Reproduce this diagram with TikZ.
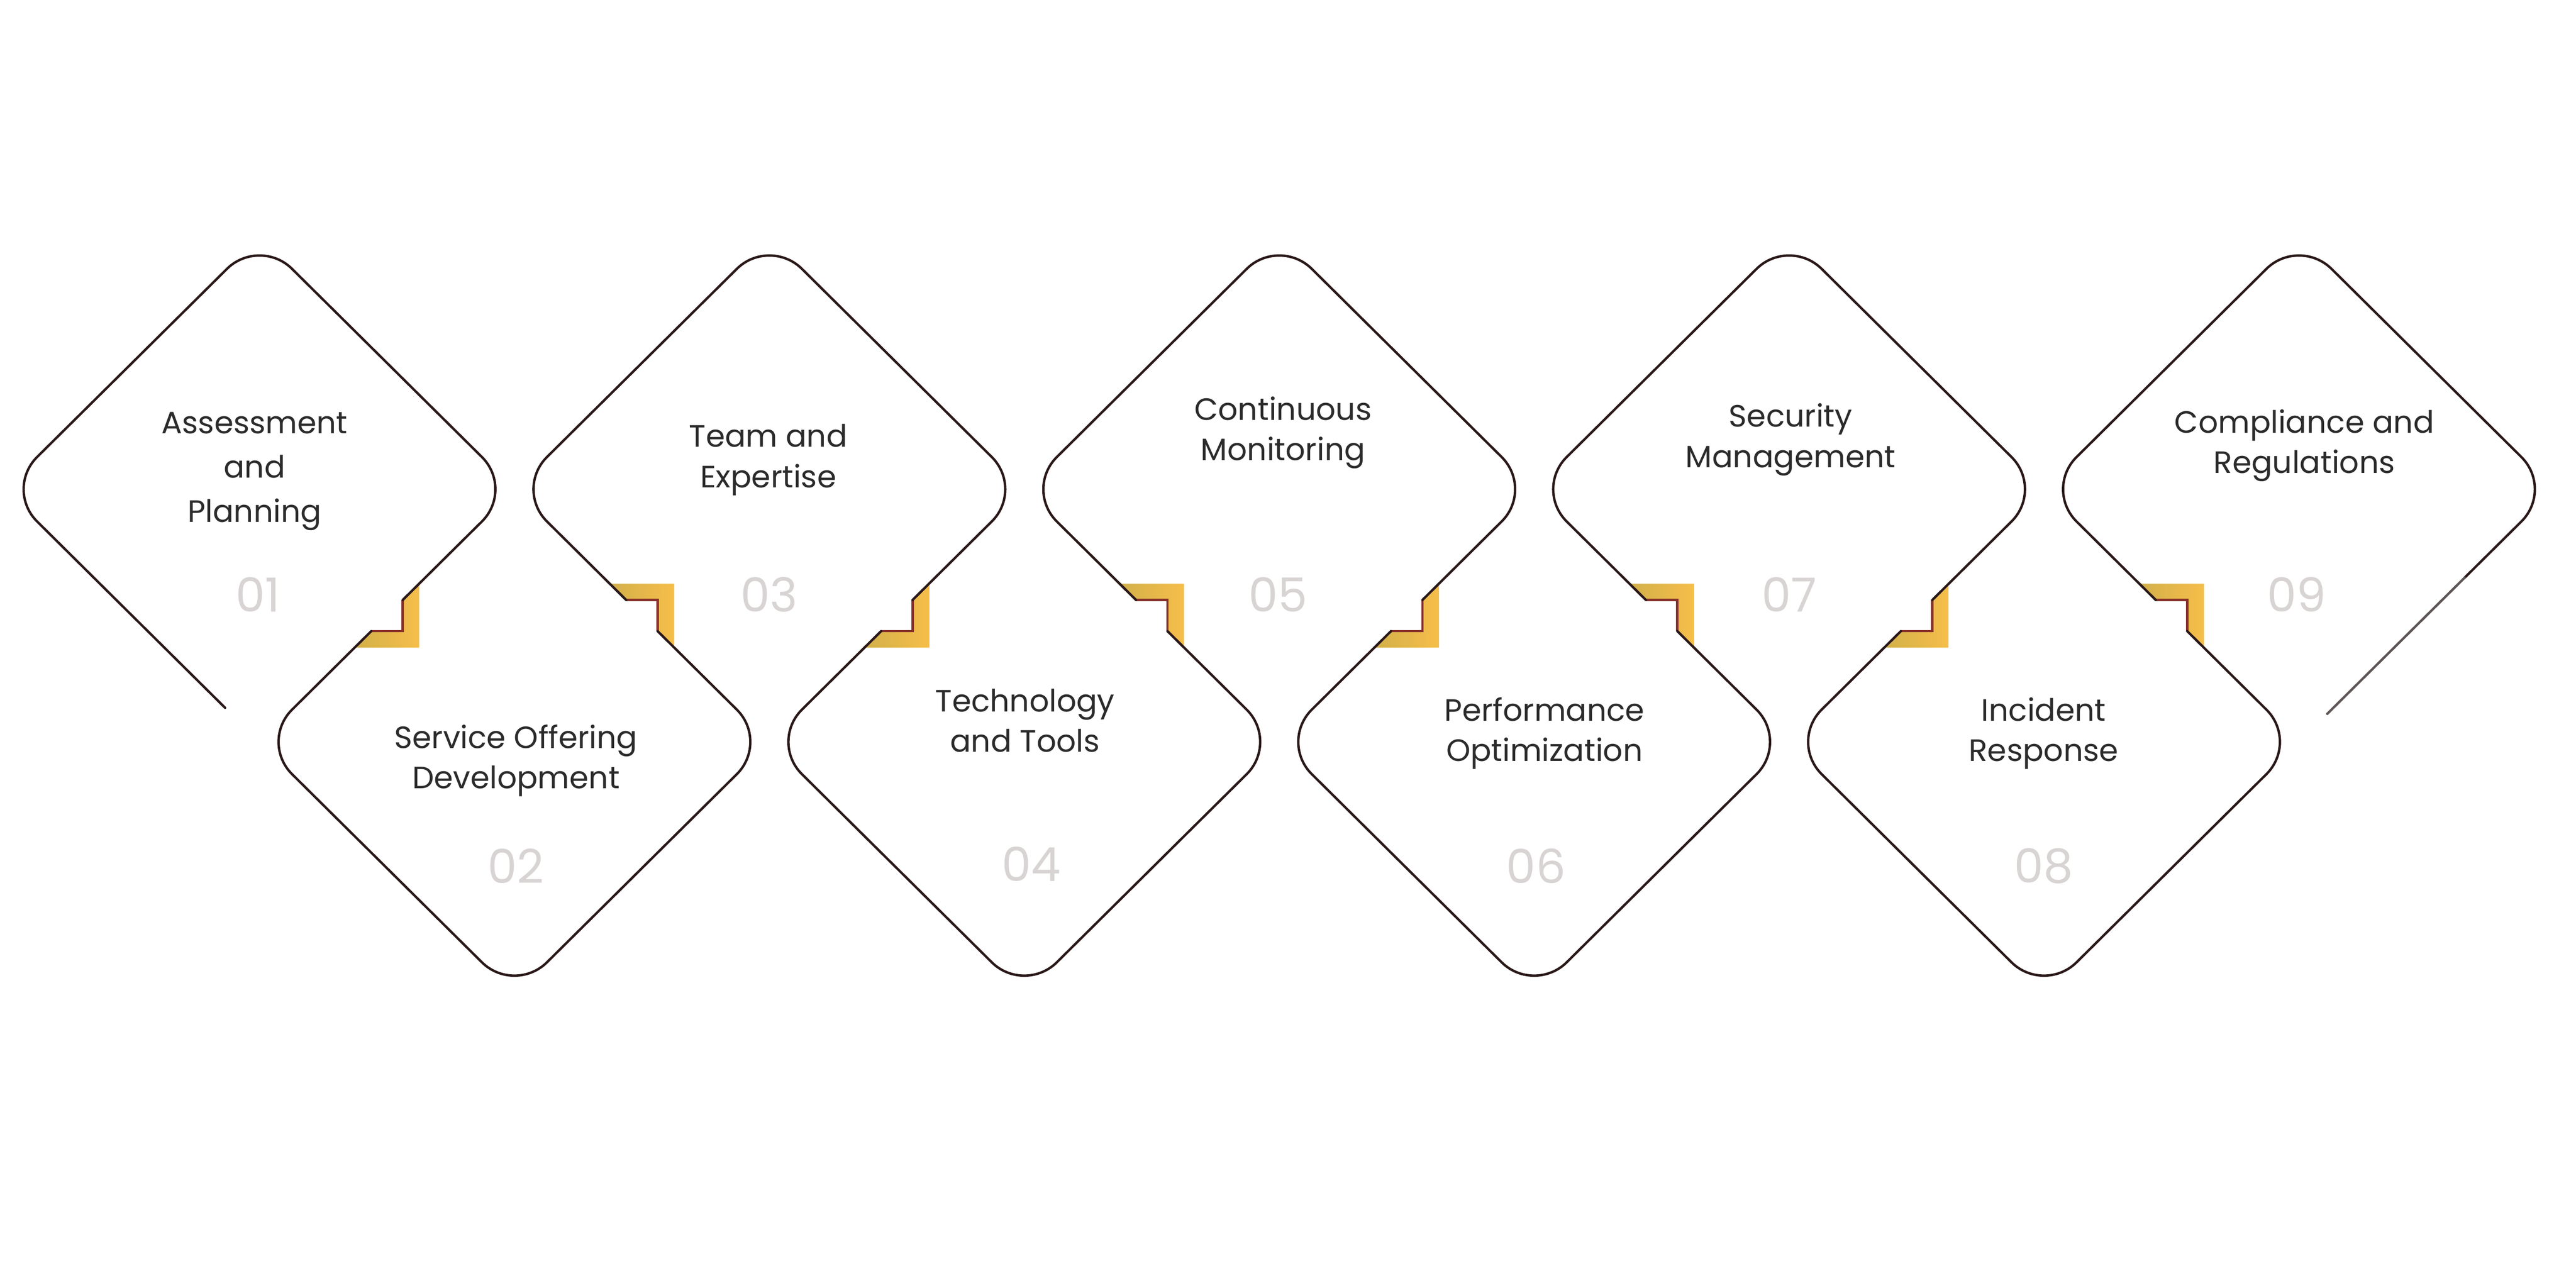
\documentclass[tikz,border=0pt]{standalone}
\usepackage{fontspec}
\setmainfont{Poppins}
\usetikzlibrary{calc}
\definecolor{lineC}{HTML}{2A1818}
\definecolor{notchC}{HTML}{86302C}
\definecolor{goldL}{HTML}{D2B04A}
\definecolor{goldR}{HTML}{F6BE4A}
\definecolor{txtC}{HTML}{2B2B2B}
\definecolor{numC}{HTML}{D9D4D4}
\definecolor{tailC}{HTML}{5E5656}

\begin{document}
\begin{tikzpicture}[x=1cm,y=-1cm,
  outline/.style={draw=lineC,line width=1.8pt,rounded corners=1.2cm,line cap=round},
  notch/.style={draw=notchC,line width=1.8pt},
  gold/.style={left color=goldL,right color=goldR},
  label/.style={align=center,text=txtC,font=\fontsize{23}{30}\selectfont},
  num/.style={text=numC,font=\fontsize{35}{35}\selectfont}]
\fill[white] (0,0) rectangle (67.5,33.75);

% corners of the zigzag
\coordinate (p0) at (0.12,12.82);
\coordinate (p1) at (13.48,12.82);
\coordinate (p2) at (26.84,12.82);
\coordinate (p3) at (40.20,12.82);
\coordinate (p4) at (53.56,12.82);
\coordinate (p5) at (66.92,12.82);
\coordinate (a1) at (6.80,6.20);
\coordinate (a2) at (20.16,6.20);
\coordinate (a3) at (33.52,6.20);
\coordinate (a4) at (46.88,6.20);
\coordinate (a5) at (60.24,6.20);
\coordinate (q0) at (6.80,19.44);
\coordinate (q1) at (20.16,19.44);
\coordinate (q2) at (33.52,19.44);
\coordinate (q3) at (46.88,19.44);
\coordinate (q4) at (60.24,19.44);
\coordinate (z1) at (13.48,26.06);
\coordinate (z2) at (26.84,26.06);
\coordinate (z3) at (40.20,26.06);
\coordinate (z4) at (53.56,26.06);
\coordinate (s1) at ($(p0)!.865!(q0)$);
\coordinate (f9) at ($(p5)!.35!(q4)$);
\coordinate (s9) at ($(p5)!.889!(q4)$);

% gold steps on the shared edges
\foreach \i/\u/\v in {1/p1/q0,2/q1/p1,3/p2/q1,4/q2/p2,5/p3/q2,6/q3/p3,7/p4/q3,8/q4/p4} {
  \coordinate (m\i) at ($(\u)!.5!(\v)$);
  \coordinate (na\i) at ($(m\i)!.58cm!(\u)$);
  \coordinate (nb\i) at ($(m\i)!.58cm!(\v)$);
  \coordinate (ga\i) at ($(m\i)!1.19cm!(\u)$);
  \coordinate (gb\i) at ($(m\i)!1.19cm!(\v)$);
  \shade[gold] (ga\i) -- (ga\i |- gb\i) -- (gb\i) -- (nb\i) -- (na\i |- nb\i) -- (na\i) -- cycle;
  \draw[notch] (na\i) -- (na\i |- nb\i) -- (nb\i);
}

\draw[outline] (s1) -- (p0) -- (a1) -- (p1) -- (na1);
\draw[outline] (nb1) -- (q0) -- (z1) -- (q1) -- (na2);
\draw[outline] (nb2) -- (p1) -- (a2) -- (p2) -- (na3);
\draw[outline] (nb3) -- (q1) -- (z2) -- (q2) -- (na4);
\draw[outline] (nb4) -- (p2) -- (a3) -- (p3) -- (na5);
\draw[outline] (nb5) -- (q2) -- (z3) -- (q3) -- (na6);
\draw[outline] (nb6) -- (p3) -- (a4) -- (p4) -- (na7);
\draw[outline] (nb7) -- (q3) -- (z4) -- (q4) -- (na8);
\draw[outline] (nb8) -- (p4) -- (a5) -- (p5) -- (f9);
\draw[draw=tailC,line width=1.8pt,line cap=round] (f9) -- (s9);

\node[label] (ap) at (6.67,12.35) {Assessment\\[3pt]and\\[3pt]Planning};
\node[label] (so) at (13.52,19.93) {Service Offering\\Development};
\node[label] (te) at (20.13,12.05) {Team and\\Expertise};
\node[label] (tt) at (26.86,18.88) {Technology\\and Tools};
\node[label] (cm) at (33.62,11.34) {Continuous\\Monitoring};
\node[label] (po) at (40.47,19.22) {Performance\\Optimization};
\node[label] (sm) at (46.92,11.52) {Security\\Management};
\node[label] (ir) at (53.55,19.22) {Incident\\Response};
\node[label] (cr) at (60.38,11.67) {Compliance and\\Regulations};

\node[num] (n1) at (6.76,15.58) {01};
\node[num] (n2) at (13.52,22.69) {02};
\node[num] (n3) at (20.15,15.58) {03};
\node[num] (n4) at (27.02,22.64) {04};
\node[num] (n5) at (33.49,15.58) {05};
\node[num] (n6) at (40.25,22.69) {06};
\node[num] (n7) at (46.88,15.58) {07};
\node[num] (n8) at (53.55,22.69) {08};
\node[num] (n9) at (60.18,15.58) {09};
\end{tikzpicture}
\end{document}
